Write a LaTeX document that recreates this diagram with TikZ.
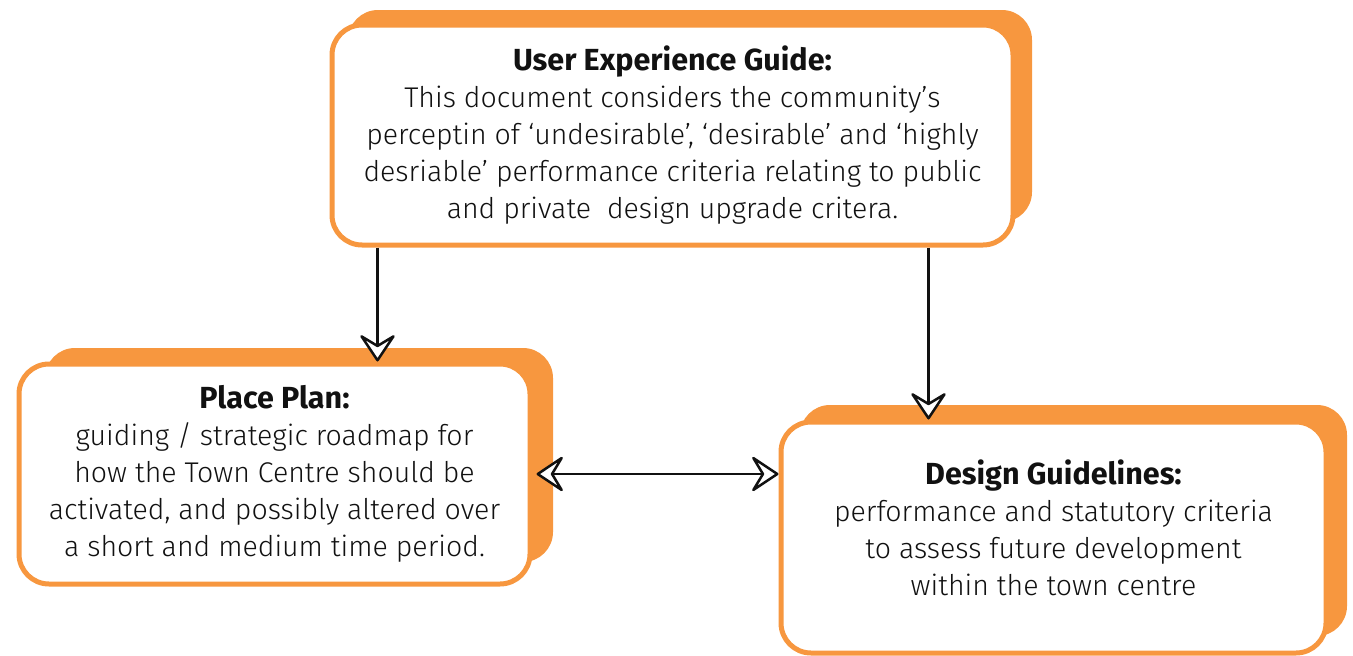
\documentclass[tikz,border=0pt]{standalone}
\usepackage{fontspec}
\setmainfont{Fira Sans Light}[BoldFont=Fira Sans Bold]
\usetikzlibrary{arrows.meta}
\definecolor{orng}{RGB}{247,151,63}
\definecolor{ink}{RGB}{17,17,17}
\newcommand{\hd}[1]{{\fontsize{30.5}{37}\selectfont\bfseries #1}}
\tikzset{
  shadowbox/.style={fill=orng, rounded corners=30pt},
  card/.style={draw=orng, line width=5pt, fill=white, rounded corners=30pt,
    inner sep=0pt, align=center, text=ink, font=\fontsize{28.5}{37}\selectfont},
  txt/.style={align=center, text=ink, font=\fontsize{28.5}{37}\selectfont},
  arr/.style={line width=2.5pt, ink, line join=round,
    -{Stealth[length=30pt, width=40pt, inset=12pt, open, fill=white, line join=round]}},
  darr/.style={line width=2.5pt, ink, line join=round,
    {Stealth[length=30pt, width=40pt, inset=12pt, open, fill=white, line join=round]}-{Stealth[length=30pt, width=40pt, inset=12pt, open, fill=white, line join=round]}}
}
\begin{document}
\begin{tikzpicture}[x=1pt,y=-1pt]
\useasboundingbox (0,0) rectangle (1353,656);
% shadows
\fill[shadowbox] (348,10) rectangle (1032,222);
\fill[shadowbox] (45,348) rectangle (553,562);
\fill[shadowbox] (800,405) rectangle (1347,636);
% cards
\node[card, minimum width=681pt, minimum height=220pt] (ux) at (672.5,135)
  {\hd{User Experience Guide:}\\
   This document considers the community’s\\
   perceptin of ‘undesirable’, ‘desirable’ and ‘highly\\
   desriable’ performance criteria relating to public\\
   and private\ \ design upgrade critera.};
\node[card, minimum width=511pt, minimum height=220pt] (pp) at (274.5,474)
  {\hd{Place Plan:}\\
   guiding / strategic roadmap for\\
   how the Town Centre should be\\
   activated, and possibly altered over\\
   a short and medium time period.};
\node[card, minimum width=545pt, minimum height=231pt] (dg) at (1053.5,537.5) {};
\node[txt] (dgt) at ([yshift=10pt]dg.center)
  {\hd{Design Guidelines:}\\
   performance and statutory criteria\\
   to assess future development\\
   within the town centre};
% connectors
\draw[arr] ([xshift=48pt]ux.south west) -- ([xshift=361pt]pp.north west);
\draw[arr] ([xshift=599pt]ux.south west) -- ([xshift=150pt]dg.north west);
\draw[darr] ([xshift=4pt]pp.east) -- (pp.east -| dg.west);
\end{tikzpicture}
\end{document}
